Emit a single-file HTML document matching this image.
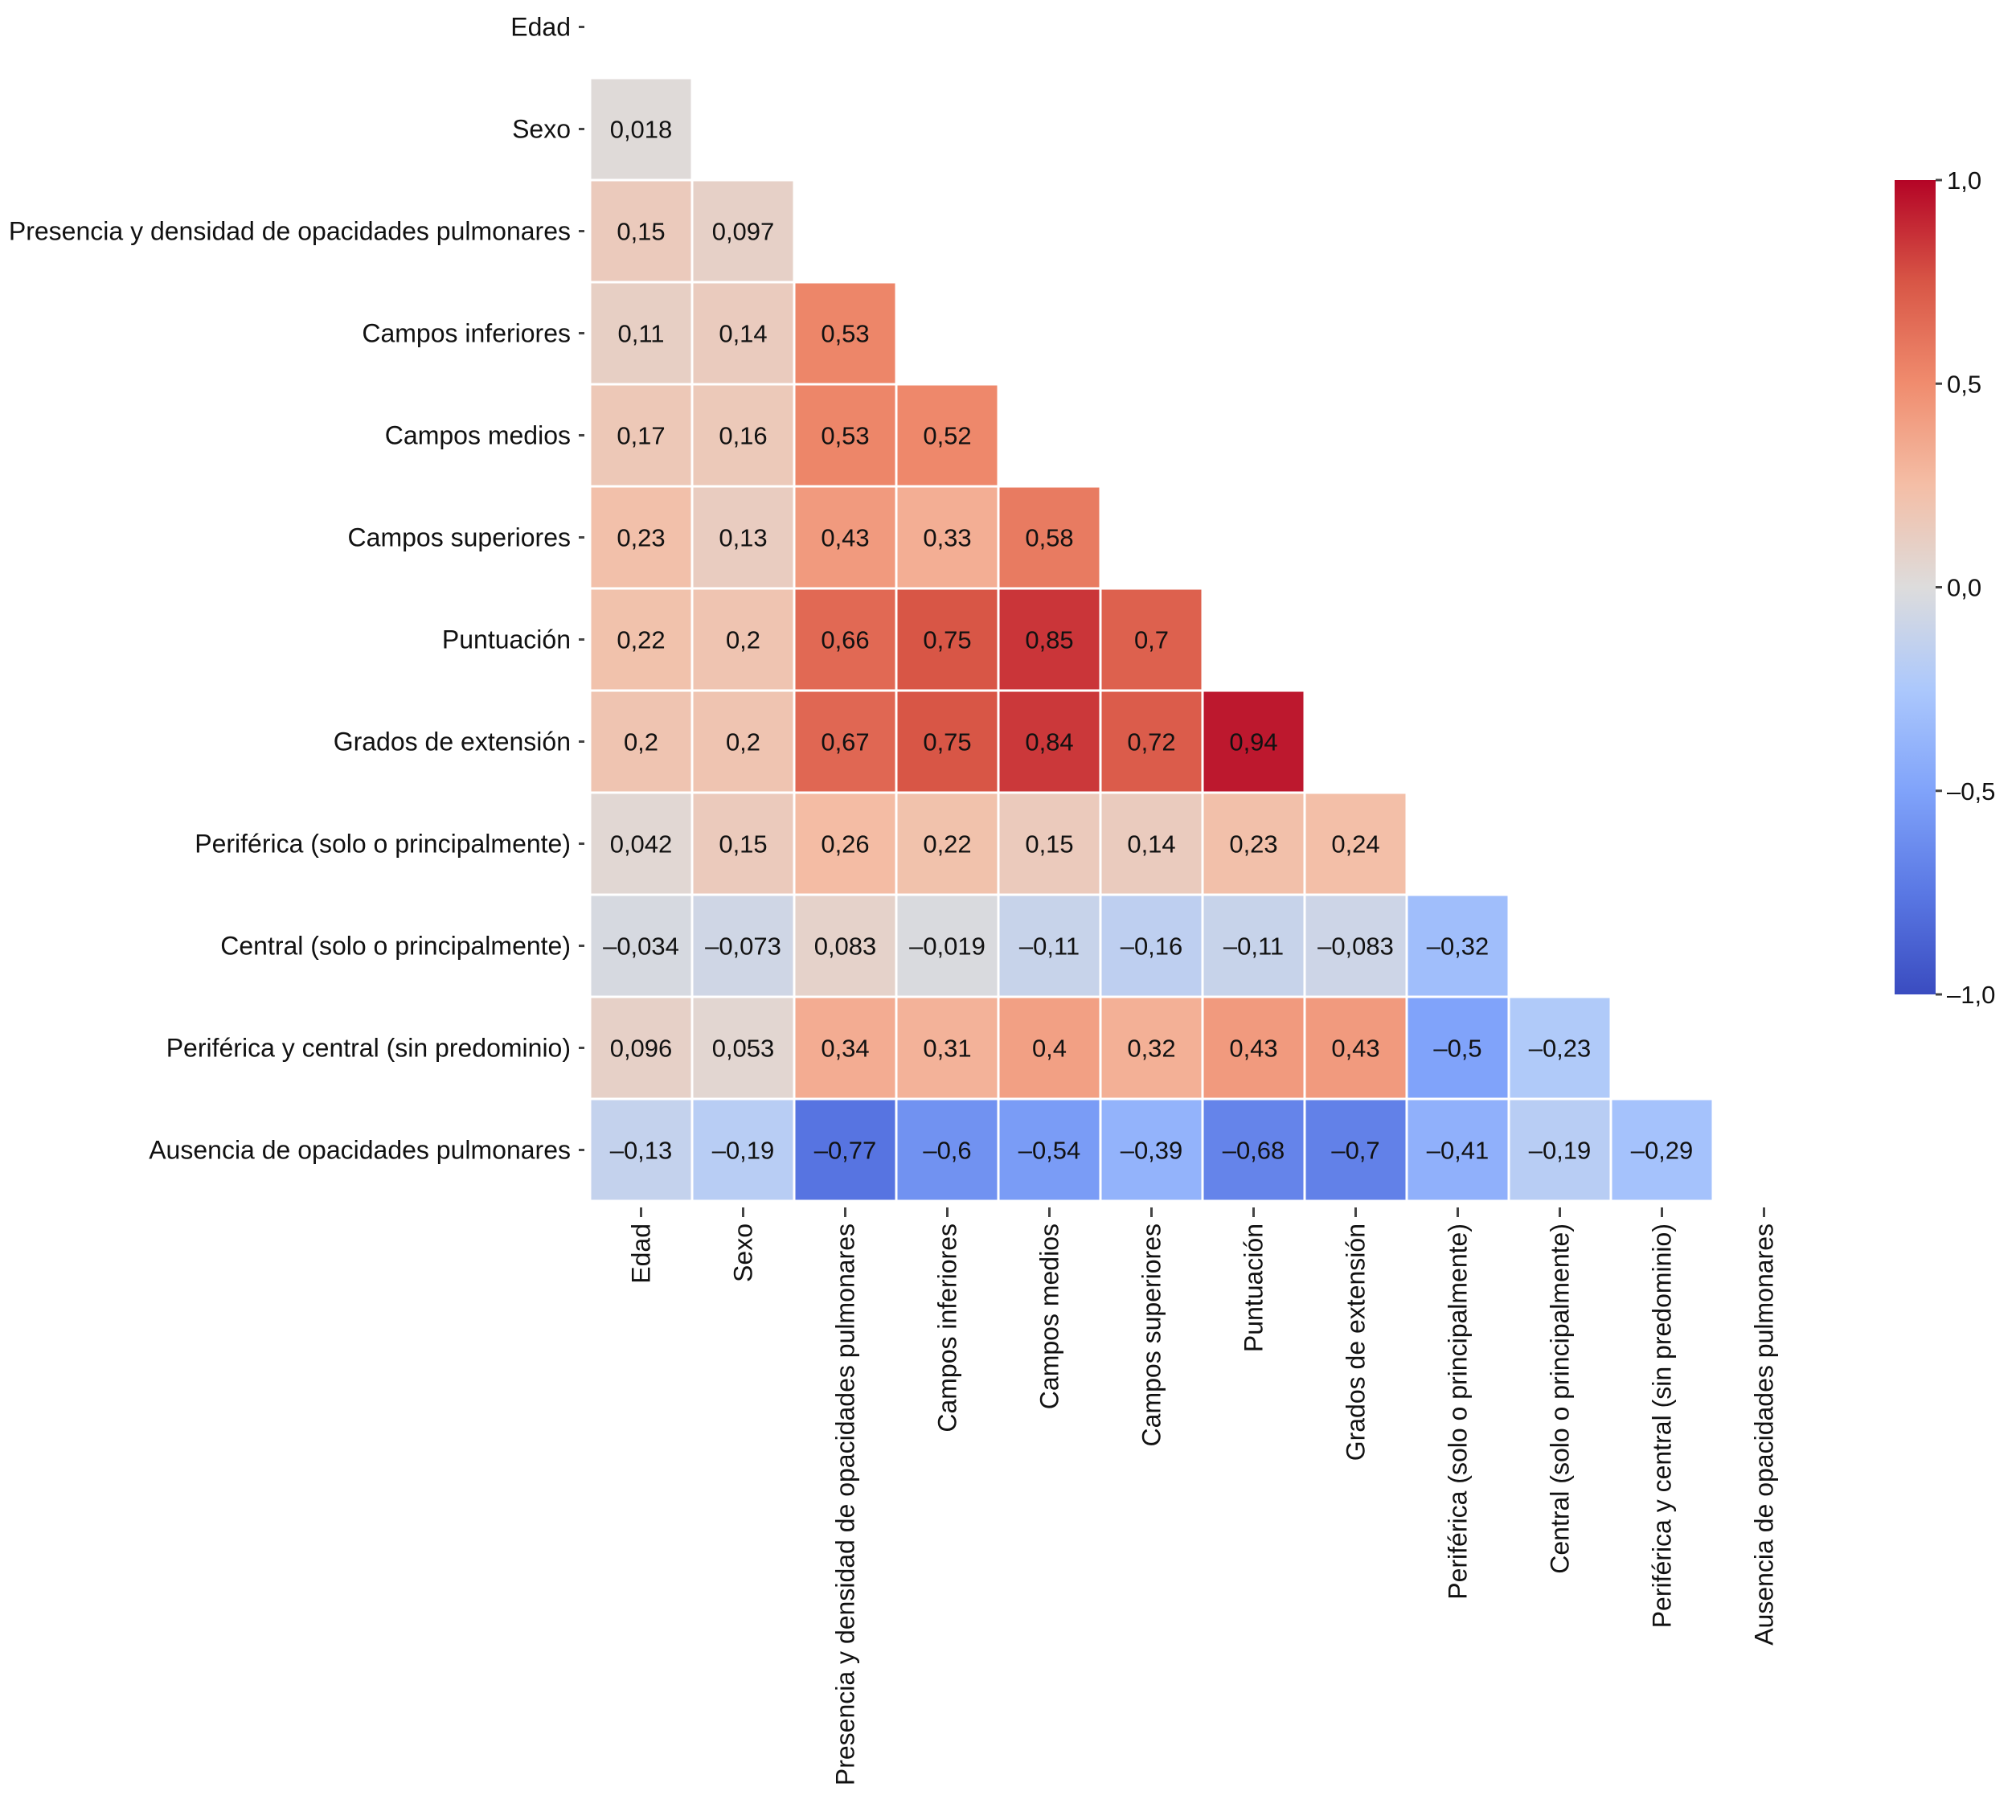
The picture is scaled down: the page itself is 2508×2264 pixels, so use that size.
<!DOCTYPE html>
<html><head><meta charset="utf-8"><style>
html,body{margin:0;padding:0;background:#fff;}
svg text{font-family:"Liberation Sans",sans-serif;fill:#111;}
</style></head><body>
<svg id="chart" width="2508" height="2259" viewBox="0 0 2508 2259" xmlns="http://www.w3.org/2000/svg">
<defs><linearGradient id="cbgrad" x1="0" y1="1" x2="0" y2="0">
<stop offset="0" stop-color="rgb(58,76,192)"/><stop offset="0.125" stop-color="rgb(90,120,228)"/><stop offset="0.25" stop-color="rgb(128,163,250)"/><stop offset="0.375" stop-color="rgb(172,200,252)"/><stop offset="0.5" stop-color="rgb(221,220,220)"/><stop offset="0.625" stop-color="rgb(244,190,166)"/><stop offset="0.75" stop-color="rgb(240,140,110)"/><stop offset="0.875" stop-color="rgb(216,86,70)"/><stop offset="1" stop-color="rgb(180,4,38)"/>
</linearGradient></defs>
<g id="cells"></g><g id="ylabels"></g><g id="xlabels"></g>
<g id="colorbar"></g>
</svg>
<script>
const categories=["Edad","Sexo","Presencia y densidad de opacidades pulmonares","Campos inferiores","Campos medios","Campos superiores","Puntuación","Grados de extensión","Periférica (solo o principalmente)","Central (solo o principalmente)","Periférica y central (sin predominio)","Ausencia de opacidades pulmonares"];
const corrRows=[
[],
[0.018],
[0.15,0.097],
[0.11,0.14,0.53],
[0.17,0.16,0.53,0.52],
[0.23,0.13,0.43,0.33,0.58],
[0.22,0.2,0.66,0.75,0.85,0.7],
[0.2,0.2,0.67,0.75,0.84,0.72,0.94],
[0.042,0.15,0.26,0.22,0.15,0.14,0.23,0.24],
[-0.034,-0.073,0.083,-0.019,-0.11,-0.16,-0.11,-0.083,-0.32],
[0.096,0.053,0.34,0.31,0.4,0.32,0.43,0.43,-0.5,-0.23],
[-0.13,-0.19,-0.77,-0.6,-0.54,-0.39,-0.68,-0.7,-0.41,-0.19,-0.29]
];
const cbTicks=[1,0.5,0,-0.5,-1];
const cbTickLabels=["1,0","0,5","0,0","–0,5","–1,0"];

const NS="http://www.w3.org/2000/svg";
const gx0=734,gy0=-30,pitch=127,gap=3;
function xPos(i){return gx0+i*pitch;}
function yPos(j){return gy0+j*pitch;}
const stops=[[-1,[58,76,192]],[-0.75,[90,120,228]],[-0.5,[128,163,250]],[-0.25,[172,200,252]],[0,[221,220,220]],[0.25,[244,190,166]],[0.5,[240,140,110]],[0.75,[216,86,70]],[1,[180,4,38]]];
function color(v){for(let k=0;k<stops.length-1;k++){const a=stops[k],b=stops[k+1];if(v<=b[0]){const t=(v-a[0])/(b[0]-a[0]);const c=a[1].map((x,i)=>Math.round(x+(b[1][i]-x)*t));return `rgb(${c})`;}}return "rgb(180,4,38)";}
function fmt(v){return String(v).replace('.',',').replace('-','–');}
function mk(tag,attrs,parent){const e=document.createElementNS(NS,tag);for(const k in attrs)e.setAttribute(k,attrs[k]);parent.appendChild(e);return e;}
const cells=document.getElementById('cells');
corrRows.forEach((row,j)=>{row.forEach((v,i)=>{
 const r=mk('rect',{x:xPos(i)+gap/2,y:yPos(j)+gap/2,width:pitch-gap,height:pitch-gap,fill:color(v)},cells);
 
 
 const t=mk('text',{x:xPos(i)+pitch/2,y:yPos(j)+pitch/2+11,'text-anchor':'middle','font-size':31},cells);
 t.textContent=fmt(v);
 
 
});});
const yl=document.getElementById('ylabels'),xl=document.getElementById('xlabels');
categories.forEach((c,k)=>{
 const cy=yPos(k)+pitch/2;
 mk('line',{x1:gx0-14,x2:gx0-7,y1:cy,y2:cy,stroke:'#444','stroke-width':3},yl);
 const t=mk('text',{x:gx0-24,y:cy+11,'text-anchor':'end','font-size':32},yl);
 t.textContent=c;
 
 
 const cx=xPos(k)+pitch/2, by=yPos(12);
 mk('line',{x1:cx,x2:cx,y1:by+8,y2:by+20,stroke:'#444','stroke-width':3},xl);
 const u=mk('text',{x:0,y:0,'text-anchor':'end','font-size':32,transform:`translate(${cx+11},${by+28}) rotate(-90)`},xl);
 u.textContent=c;
 
 
});
const cb=document.getElementById('colorbar');
const cbx=2357,cbw=51,cbTop=224,cbBot=1237;
function cbY(v){return cbBot-(v+1)/2*(cbBot-cbTop);}
mk('rect',{x:cbx,y:cbTop,width:cbw,height:cbBot-cbTop,fill:'url(#cbgrad)'},cb);
cbTicks.forEach((v,k)=>{
 const y=cbY(v);
 mk('line',{x1:cbx+cbw,x2:cbx+cbw+8,y1:y,y2:y,stroke:'#444','stroke-width':3},cb);
 const t=mk('text',{x:cbx+cbw+14,y:y+11,'font-size':31},cb);
 t.textContent=cbTickLabels[k];
 
 
});
</script>
</body></html>
